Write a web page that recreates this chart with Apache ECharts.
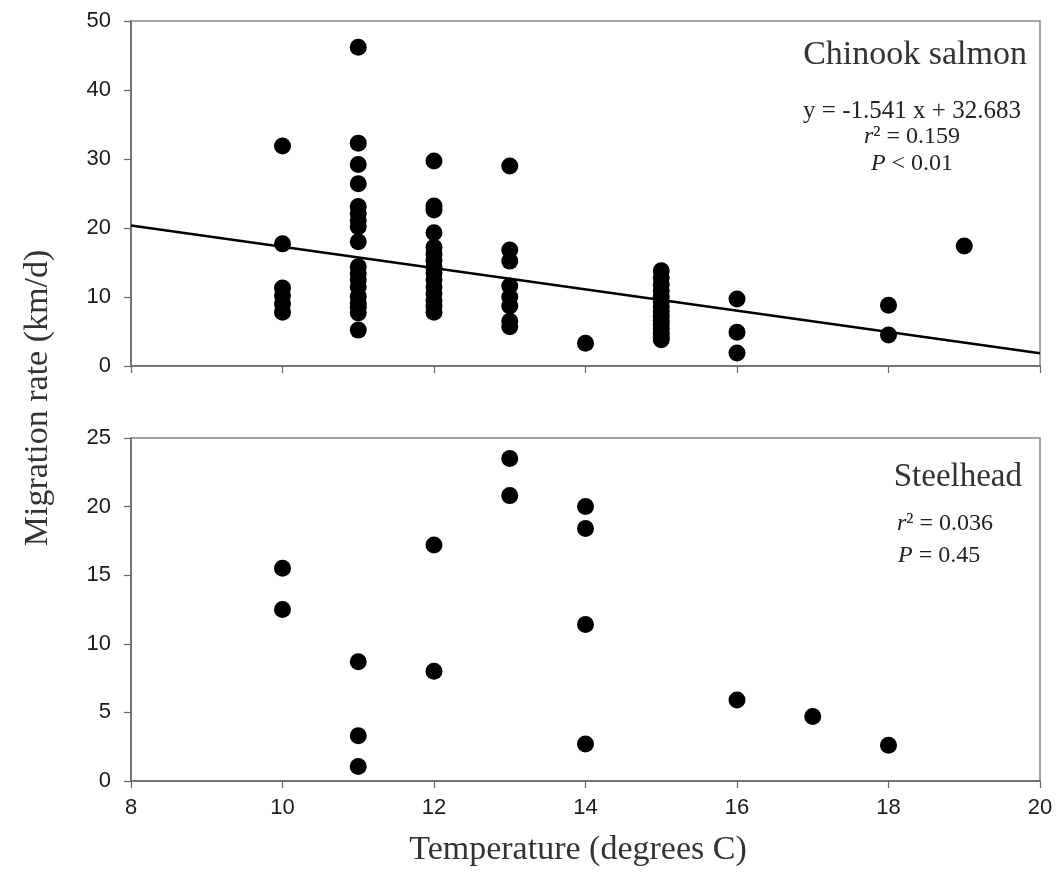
<!DOCTYPE html>
<html>
<head>
<meta charset="utf-8">
<script src="https://cdn.jsdelivr.net/npm/echarts@6/dist/echarts.min.js"></script>
<style>
html,body{margin:0;padding:0;background:#fff;}
#chart{width:1056px;height:879px;}
</style>
</head>
<body>
<div id="chart"></div>
<script>
// Temperature ticks
const xTicks = [8, 10, 12, 14, 16, 18, 20];
// Chinook salmon: temperature groups and migration rates (km/d)
const chinookTemps = [10, 11, 12, 13, 14, 15, 16, 18, 19];
const chinookRates = [
  [31.9, 17.7, 11.3, 10.2, 9.0, 7.8],
  [46.2, 32.3, 29.2, 26.4, 23.1, 22.1, 21.1, 20.2, 18.0, 14.4, 13.4, 12.5, 11.5, 10.1, 9.1, 8.5, 7.7, 5.2],
  [29.7, 23.2, 22.6, 19.3, 17.2, 16.2, 15.3, 14.3, 13.5, 12.5, 11.5, 10.5, 9.5, 8.7, 7.8],
  [29.0, 16.8, 15.2, 11.6, 10.0, 8.7, 6.5, 5.7],
  [3.3],
  [13.8, 12.8, 11.8, 10.9, 10.0, 9.3, 8.6, 7.9, 7.2, 6.6, 6.0, 5.4, 4.8, 4.2, 3.8],
  [9.7, 4.9, 1.9],
  [8.8, 4.5],
  [17.4]
];
// Regression (from the figure): y = -1.541 x + 32.683
const chinookSlope = -1.541;
const chinookIntercept = 32.683;
const fitRange = [8, 20];

// Steelhead
const steelTemps = [10, 11, 12, 13, 14, 16, 17, 18];
const steelRates = [
  [15.5, 12.5],
  [8.7, 3.3, 1.05],
  [17.2, 8.0],
  [23.5, 20.8],
  [20.0, 18.4, 11.4, 2.7],
  [5.9],
  [4.7],
  [2.6]
];

function pairs(temps, rates) {
  const out = [];
  temps.forEach((t, i) => rates[i].forEach(v => out.push([t, v])));
  return out;
}
const chinookPts = pairs(chinookTemps, chinookRates);
const steelPts = pairs(steelTemps, steelRates);
const fitLine = fitRange.map(x => [x, chinookSlope * x + chinookIntercept]);

const axisColor = '#666';
const sans = '"Liberation Sans", Arial, sans-serif';
const serif = '"Liberation Serif", "Times New Roman", serif';

function xAxis(gridIndex, showLabels) {
  return {
    type: 'value', gridIndex, min: 8, max: 20, interval: 2,
    axisLine: {show: true, onZero: false, lineStyle: {color: axisColor, width: 1.5}},
    axisTick: {show: true, length: 7, lineStyle: {color: axisColor, width: 1.2}},
    axisLabel: {show: showLabels, fontFamily: sans, fontSize: 22, color: '#1a1a1a', margin: 16},
    splitLine: {show: false}
  };
}
function yAxis(gridIndex, max, interval) {
  return {
    type: 'value', gridIndex, min: 0, max, interval,
    axisLine: {show: true, onZero: false, lineStyle: {color: axisColor, width: 1.5}},
    axisTick: {show: true, length: 7, lineStyle: {color: axisColor, width: 1.2}},
    axisLabel: {fontFamily: sans, fontSize: 22, color: '#1a1a1a', margin: 20},
    splitLine: {show: false}
  };
}

const italicRich = {
  i: {fontStyle: 'italic', fontFamily: serif, fontSize: 24, fill: '#222'},
  n: {fontFamily: serif, fontSize: 24, fill: '#222'}
};

const chart = echarts.init(document.getElementById('chart'), null, {renderer: 'canvas'});
chart.setOption({
  backgroundColor: '#fff',
  animation: false,
  grid: [
    {left: 131, right: 16, top: 21, height: 345, show: true, borderColor: '#888', borderWidth: 1.5, backgroundColor: 'transparent'},
    {left: 131, right: 16, top: 438, height: 343, show: true, borderColor: '#888', borderWidth: 1.5, backgroundColor: 'transparent'}
  ],
  xAxis: [xAxis(0, false), xAxis(1, true)],
  yAxis: [yAxis(0, 50, 10), yAxis(1, 25, 5)],
  series: [
    {type: 'scatter', xAxisIndex: 0, yAxisIndex: 0, data: chinookPts, symbolSize: 17,
     itemStyle: {color: '#000', opacity: 1}},
    {type: 'line', xAxisIndex: 0, yAxisIndex: 0, data: fitLine, showSymbol: false,
     lineStyle: {color: '#000', width: 2.5}, z: 3},
    {type: 'scatter', xAxisIndex: 1, yAxisIndex: 1, data: steelPts, symbolSize: 17,
     itemStyle: {color: '#000', opacity: 1}}
  ],
  graphic: [
    {type: 'text', x: 38, y: 398, rotation: Math.PI / 2,
     style: {text: 'Migration rate (km/d)', font: '34px ' + serif, fill: '#333', textAlign: 'center', textVerticalAlign: 'middle'}},
    {type: 'text', x: 578, y: 850,
     style: {text: 'Temperature (degrees C)', font: '34px ' + serif, fill: '#333', textAlign: 'center', textVerticalAlign: 'middle'}},
    {type: 'text', x: 1027, y: 55,
     style: {text: 'Chinook salmon', font: '34px ' + serif, fill: '#333', textAlign: 'right', textVerticalAlign: 'middle'}},
    {type: 'text', x: 912, y: 111,
     style: {text: 'y = -1.541 x + 32.683', font: '25px ' + serif, fill: '#222', textAlign: 'center', textVerticalAlign: 'middle'}},
    {type: 'text', x: 912, y: 137,
     style: {text: '{i|r}{n|² = 0.159}', font: '24px ' + serif, fill: '#222', textAlign: 'center', textVerticalAlign: 'middle', rich: italicRich}},
    {type: 'text', x: 912, y: 164,
     style: {text: '{i|P}{n| < 0.01}', font: '24px ' + serif, fill: '#222', textAlign: 'center', textVerticalAlign: 'middle', rich: italicRich}},
    {type: 'text', x: 1022, y: 477,
     style: {text: 'Steelhead', font: '33px ' + serif, fill: '#333', textAlign: 'right', textVerticalAlign: 'middle'}},
    {type: 'text', x: 897, y: 524,
     style: {text: '{i|r}{n|² = 0.036}', font: '24px ' + serif, fill: '#222', textAlign: 'left', textVerticalAlign: 'middle', rich: italicRich}},
    {type: 'text', x: 898, y: 556,
     style: {text: '{i|P}{n| = 0.45}', font: '24px ' + serif, fill: '#222', textAlign: 'left', textVerticalAlign: 'middle', rich: italicRich}}
  ]
});
</script>
</body>
</html>
